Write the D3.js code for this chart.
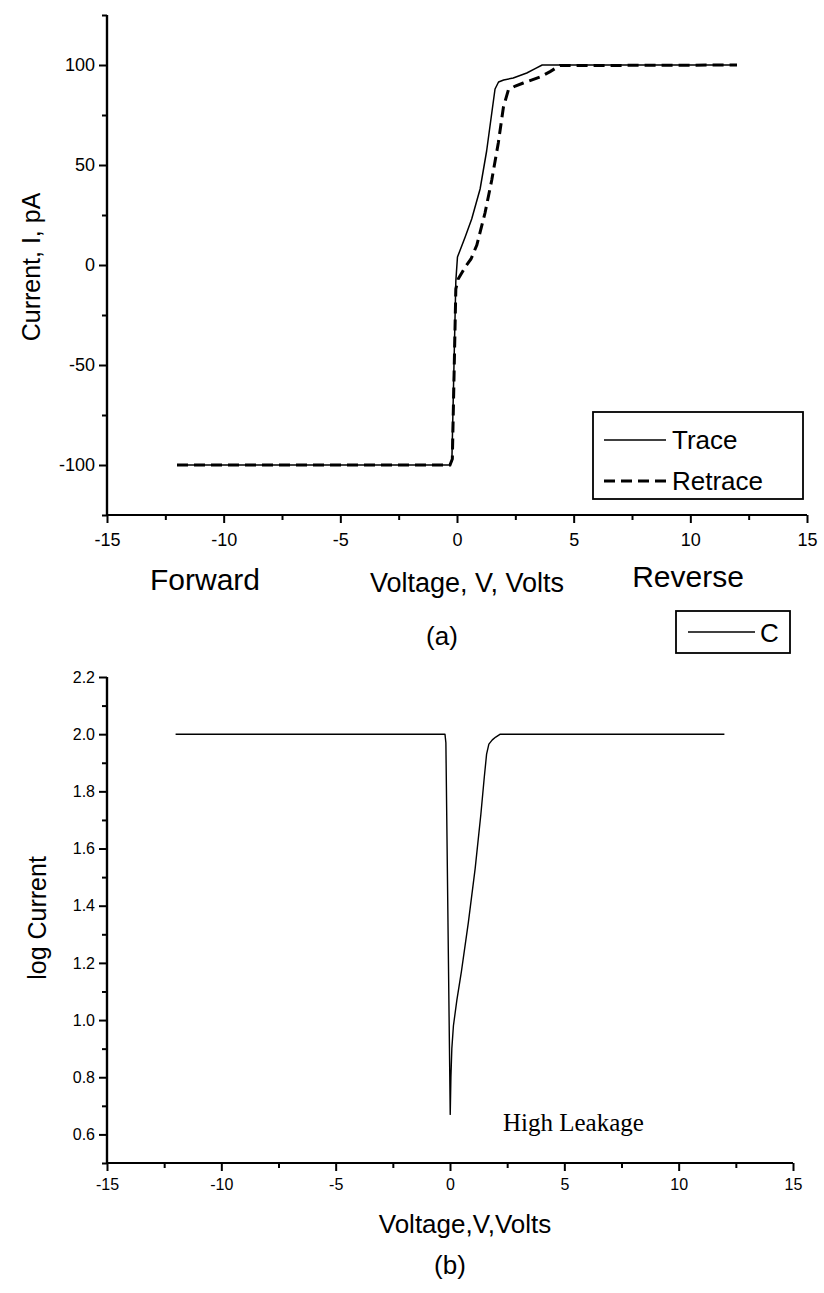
<!DOCTYPE html>
<html>
<head>
<meta charset="utf-8">
<script src="https://cdn.jsdelivr.net/npm/d3@7"></script>
<style>
  html, body { margin: 0; padding: 0; background: #fff; }
  svg { display: block; }
  text { fill: #000; }
</style>
</head>
<body>
<svg id="fig" width="824" height="1293"></svg>
<script>
// ---- data: panel (a) I–V sweep, [voltage (V), current (pA)] ----
const traceData = [
  [-12, -100], [-0.3, -100], [-0.22, -98], [-0.05, -8], [0.02, 4], [0.12, 7],
  [0.35, 14], [0.63, 23], [0.99, 38], [1.27, 57], [1.49, 76], [1.63, 88],
  [1.78, 91.5], [2.0, 92.5], [2.41, 93.5], [2.99, 96], [3.35, 98.2], [3.65, 100],
  [12, 100]
];
const retraceData = [
  [-12, -100], [-0.3, -100], [-0.2, -97], [-0.05, -12], [0.05, -7], [0.35, -1],
  [0.6, 3], [0.85, 10], [1.2, 26], [1.49, 42.5], [1.77, 61], [1.99, 79],
  [2.2, 87.5], [2.5, 89.5], [2.84, 91], [3.56, 94], [3.99, 96.7], [4.41, 99.7],
  [12, 100]
];
// ---- data: panel (b) log current vs voltage ----
const logCurrentData = [
  [-12, 2.0], [-0.5, 2.0], [-0.22, 2.0], [-0.18, 1.97], [0.01, 0.67],
  [0.04, 0.8], [0.08, 0.9], [0.15, 0.98], [0.3, 1.07], [0.5, 1.17],
  [0.8, 1.34], [1.1, 1.53], [1.35, 1.72], [1.5, 1.85], [1.6, 1.93],
  [1.7, 1.965], [1.85, 1.98], [2.0, 1.99], [2.2, 2.0], [12, 2.0]
];

// axis ticks
const xMajorTicks = [-15, -10, -5, 0, 5, 10, 15];
const xMinorTicks = [-12.5, -7.5, -2.5, 2.5, 7.5, 12.5];
const yTopMajor = [-100, -50, 0, 50, 100];
const yTopMinor = [-125, -75, -25, 25, 75, 125];
const yBotMajor = [0.6, 0.8, 1.0, 1.2, 1.4, 1.6, 1.8, 2.0, 2.2];
const yBotMinor = [0.5, 0.7, 0.9, 1.1, 1.3, 1.5, 1.7, 1.9, 2.1];

const legendA = ["Trace", "Retrace"];
const legendB = ["C"];

const SANS = "'Liberation Sans', Arial, sans-serif";
const SERIF = "'Liberation Serif', 'Times New Roman', serif";

// plain hyphen for negative numbers
const intFmt = d => String(d);
const oneDec = d => d.toFixed(1);

const svg = d3.select("#fig");

function drawAxes(g, x, y, cfg) {
  const y0 = y.range()[0];
  const x0 = x.range()[0];

  const gx = g.append("g").attr("transform", `translate(0,${y0})`)
    .call(d3.axisBottom(x).tickValues(cfg.xMajor).tickSize(8).tickPadding(cfg.xPad)
      .tickFormat(intFmt));
  const gxm = g.append("g").attr("transform", `translate(0,${y0})`)
    .call(d3.axisBottom(x).tickValues(cfg.xMinor).tickSize(5).tickFormat(""));
  const gy = g.append("g").attr("transform", `translate(${x0},0)`)
    .call(d3.axisLeft(y).tickValues(cfg.yMajor).tickSize(8).tickPadding(4)
      .tickFormat(cfg.yFormat));
  const gym = g.append("g").attr("transform", `translate(${x0},0)`)
    .call(d3.axisLeft(y).tickValues(cfg.yMinor).tickSize(5).tickFormat(""));

  // plain axis lines without end caps
  [gx, gxm].forEach(s => s.select(".domain").attr("d", `M${x.range()[0]},0H${x.range()[1]}`));
  [gy, gym].forEach(s => s.select(".domain").attr("d", `M0,${y.range()[0]}V${y.range()[1]}`));

  g.selectAll(".domain").attr("stroke", "#000").attr("stroke-width", 2.2);
  g.selectAll(".tick line").attr("stroke", "#000").attr("stroke-width", 2);
  g.selectAll(".tick text").attr("font-family", SANS).attr("font-size", cfg.tickFont)
    .attr("fill", "#000");
}

// ---------------- panel (a) ----------------
const xA = d3.scaleLinear().domain([-15, 15]).range([107, 807]);
const yA = d3.scaleLinear().domain([-125, 125]).range([515, 15]);
const gA = svg.append("g");

drawAxes(gA, xA, yA, {
  xMajor: xMajorTicks, xMinor: xMinorTicks,
  yMajor: yTopMajor, yMinor: yTopMinor,
  yFormat: intFmt, tickFont: 18, xPad: 10
});

const lineA = d3.line().x(d => xA(d[0])).y(d => yA(d[1]));
gA.append("path").datum(traceData).attr("d", lineA)
  .attr("fill", "none").attr("stroke", "#000").attr("stroke-width", 1.5)
  .attr("stroke-linejoin", "round");
gA.append("path").datum(retraceData).attr("d", lineA)
  .attr("fill", "none").attr("stroke", "#000").attr("stroke-width", 3)
  .attr("stroke-dasharray", "11,6");

gA.append("text").attr("transform", "translate(31,267) rotate(-90)")
  .attr("text-anchor", "middle").attr("dominant-baseline", "central")
  .attr("font-family", SANS).attr("font-size", 25).text("Current, I, pA");

gA.append("text").attr("x", 205).attr("y", 579).attr("text-anchor", "middle")
  .attr("dominant-baseline", "central").attr("font-family", SANS).attr("font-size", 30)
  .text("Forward");
gA.append("text").attr("x", 467).attr("y", 583).attr("text-anchor", "middle")
  .attr("dominant-baseline", "central").attr("font-family", SANS).attr("font-size", 27)
  .text("Voltage, V, Volts");
gA.append("text").attr("x", 688).attr("y", 576).attr("text-anchor", "middle")
  .attr("dominant-baseline", "central").attr("font-family", SANS).attr("font-size", 30)
  .text("Reverse");
gA.append("text").attr("x", 442).attr("y", 636).attr("text-anchor", "middle")
  .attr("dominant-baseline", "central").attr("font-family", SANS).attr("font-size", 26)
  .text("(a)");

// legend (a)
const legA = gA.append("g");
legA.append("rect").attr("x", 593).attr("y", 412).attr("width", 210).attr("height", 87)
  .attr("fill", "#fff").attr("stroke", "#000").attr("stroke-width", 1.8);
legendA.forEach((name, i) => {
  const ly = 440 + i * 41;
  legA.append("line").attr("x1", 604).attr("x2", 666).attr("y1", ly).attr("y2", ly)
    .attr("stroke", "#000")
    .attr("stroke-width", i === 0 ? 1.5 : 3)
    .attr("stroke-dasharray", i === 0 ? null : "11,6");
  legA.append("text").attr("x", 672).attr("y", ly).attr("dominant-baseline", "central")
    .attr("font-family", SANS).attr("font-size", 26).text(name);
});

// ---------------- panel (b) ----------------
const xB = d3.scaleLinear().domain([-15, 15]).range([107, 793]);
const yB = d3.scaleLinear().domain([0.5, 2.2]).range([1163, 677]);
const gB = svg.append("g");

drawAxes(gB, xB, yB, {
  xMajor: xMajorTicks, xMinor: xMinorTicks,
  yMajor: yBotMajor, yMinor: yBotMinor,
  yFormat: oneDec, tickFont: 16, xPad: 8
});

const lineB = d3.line().x(d => xB(d[0])).y(d => yB(d[1]));
gB.append("path").datum(logCurrentData).attr("d", lineB)
  .attr("fill", "none").attr("stroke", "#000").attr("stroke-width", 1.4)
  .attr("stroke-linejoin", "round");

gB.append("text").attr("transform", "translate(37,918) rotate(-90)")
  .attr("text-anchor", "middle").attr("dominant-baseline", "central")
  .attr("font-family", SANS).attr("font-size", 25).text("log Current");
gB.append("text").attr("x", 465).attr("y", 1224).attr("text-anchor", "middle")
  .attr("dominant-baseline", "central").attr("font-family", SANS).attr("font-size", 26)
  .text("Voltage,V,Volts");
gB.append("text").attr("x", 450).attr("y", 1265).attr("text-anchor", "middle")
  .attr("dominant-baseline", "central").attr("font-family", SANS).attr("font-size", 26)
  .text("(b)");
gB.append("text").attr("x", 503).attr("y", 1131)
  .attr("font-family", SERIF).attr("font-size", 25).text("High Leakage");

// legend (b)
const legB = gB.append("g");
legB.append("rect").attr("x", 676).attr("y", 611).attr("width", 114).attr("height", 42)
  .attr("fill", "#fff").attr("stroke", "#000").attr("stroke-width", 1.8);
legendB.forEach(name => {
  legB.append("line").attr("x1", 688).attr("x2", 755).attr("y1", 632).attr("y2", 632)
    .attr("stroke", "#000").attr("stroke-width", 1.5);
  legB.append("text").attr("x", 760).attr("y", 633).attr("dominant-baseline", "central")
    .attr("font-family", SANS).attr("font-size", 26).text(name);
});
</script>
</body>
</html>
